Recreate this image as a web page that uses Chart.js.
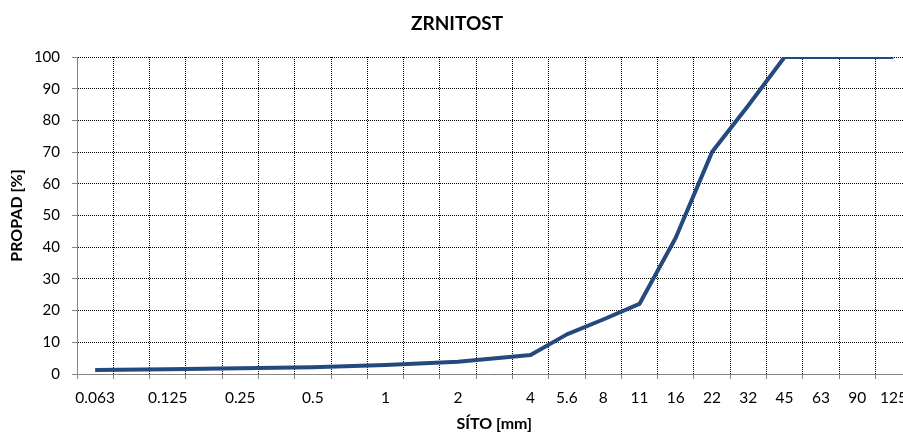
<!DOCTYPE html>
<html>
<head>
<meta charset="utf-8">
<script src="https://cdn.jsdelivr.net/npm/chart.js@4/dist/chart.umd.min.js"></script>
<style>
  html, body { margin: 0; padding: 0; width: 903px; height: 433px; overflow: hidden; background: #fff; }
  canvas { display: block; }
</style>
</head>
<body>
<canvas id="c" width="917" height="433"></canvas>
<script>
const categories = ['0.063', '', '0.125', '', '0.25', '', '0.5', '', '1', '', '2', '', '4', '5.6', '8', '11', '16', '22', '32', '45', '63', '90', '125'];
const propad = [1.3, null, 1.5, null, 1.8, null, 2.1, null, 2.8, null, 3.9, null, 6.0, 12.5, 17.2, 22.1, 43, 70, 84.7, 100, 100, 100, 100];
const yTicks = [0, 10, 20, 30, 40, 50, 60, 70, 80, 90, 100];

const FONT = "Lato, 'Open Sans', sans-serif";
const GRID = '#000000';
const AXIS = '#868686';

new Chart(document.getElementById('c'), {
  type: 'line',
  data: {
    labels: categories,
    datasets: [{
      data: propad,
      borderColor: '#24497f',
      borderWidth: 4,
      pointRadius: 0,
      tension: 0,
      spanGaps: true,
      borderJoinStyle: 'round',
      borderCapStyle: 'butt'
    }]
  },
  options: {
    responsive: false,
    animation: false,
    layout: { padding: { left: 0, right: 3, top: 0, bottom: 0 } },
    plugins: {
      legend: { display: false },
      tooltip: { enabled: false },
      title: {
        display: true,
        text: 'ZRNITOST',
        color: '#000',
        font: { family: FONT, size: 19, weight: 'bold', lineHeight: 1.2 },
        padding: { top: 12.5, bottom: 21.7 }
      }
    },
    scales: {
      x: {
        type: 'category',
        offset: true,
        grid: {
          offset: true,
          color: GRID,
          lineWidth: 1,
          drawTicks: true,
          tickLength: 5,
          tickColor: AXIS,
          tickBorderDash: []
        },
        border: { display: true, color: AXIS, width: 1, dash: [1, 1] },
        ticks: {
          autoSkip: false,
          maxRotation: 0,
          minRotation: 0,
          color: '#000',
          padding: 10,
          font: { family: FONT, size: 15.5 }
        },
        title: {
          display: true,
          text: 'SÍTO [mm]',
          color: '#000',
          font: { family: FONT, size: 16, weight: 'bold', lineHeight: 1.1 },
          padding: { top: 0, bottom: 0 }
        },
        afterFit(scale) { scale.height = 59; }
      },
      y: {
        min: 0,
        max: 100,
        afterBuildTicks(scale) { scale.ticks = yTicks.map(v => ({ value: v })); },
        grid: {
          color: GRID,
          lineWidth: 1,
          drawTicks: true,
          tickLength: 5,
          tickColor: AXIS,
          tickBorderDash: []
        },
        border: { display: true, color: AXIS, width: 1, dash: [1, 1] },
        ticks: {
          color: '#000',
          padding: 12,
          font: { family: FONT, size: 15 }
        },
        title: {
          display: true,
          text: 'PROPAD [%]',
          color: '#000',
          font: { family: FONT, size: 16, weight: 'bold', lineHeight: 1.2 },
          padding: { top: 7, bottom: 0 }
        },
        afterFit(scale) { scale.width = 77; }
      }
    }
  }
});
</script>
</body>
</html>
